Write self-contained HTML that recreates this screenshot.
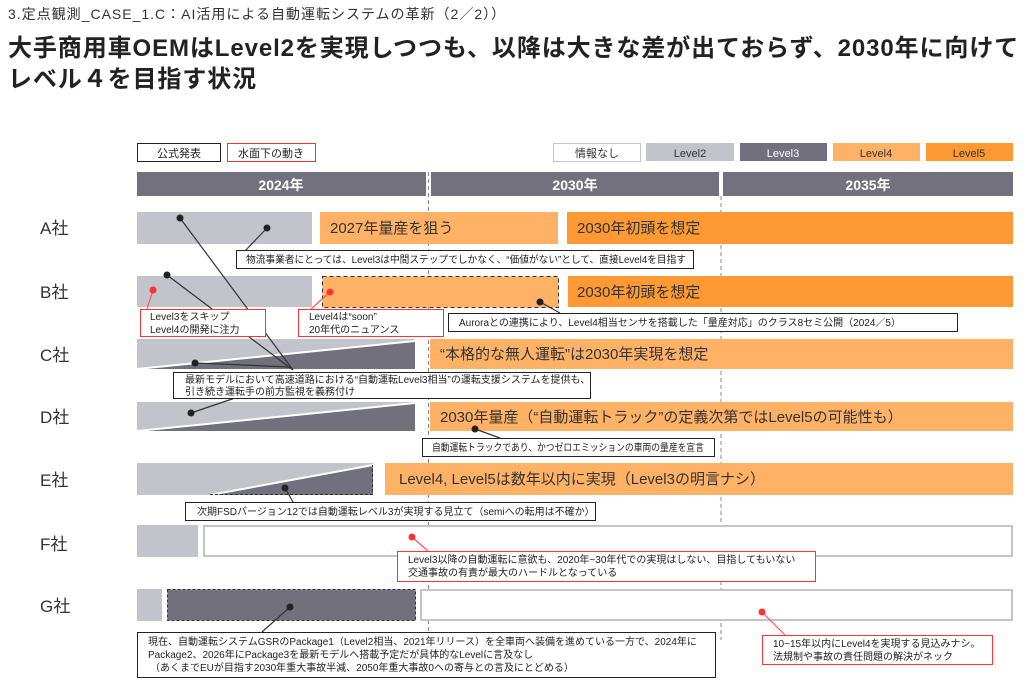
<!DOCTYPE html>
<html><head><meta charset="utf-8"><style>
body{margin:0;background:#fff;}
svg{display:block;font-family:"Liberation Sans","Noto Sans CJK JP",sans-serif;}
.bt{font-size:15px;fill:#333;}
.ct{font-size:10px;fill:#222;}
.rl{font-size:17px;fill:#333;}
</style></head><body>
<svg width="1027" height="692" viewBox="0 0 1027 692" xmlns="http://www.w3.org/2000/svg">
<text x="8" y="19" font-size="14" fill="#333" letter-spacing="1">3.定点観測_CASE_1.C：AI活用による自動運転システムの革新（2／2））</text>
<text x="8" y="56" font-size="24" font-weight="bold" fill="#222" letter-spacing="0.9">大手商用車OEMはLevel2を実現しつつも、以降は大きな差が出ておらず、2030年に向けて</text>
<text x="8" y="87" font-size="24" font-weight="bold" fill="#222" letter-spacing="0.9">レベル４を目指す状況</text>

<!-- legend -->
<rect x="137.5" y="143.5" width="83" height="18" fill="#fff" stroke="#222"/>
<text x="179" y="157" font-size="11" text-anchor="middle" fill="#222">公式発表</text>
<rect x="227.5" y="143.5" width="88" height="18" fill="#fff" stroke="#e33"/>
<text x="271" y="157" font-size="11" text-anchor="middle" fill="#222">水面下の動き</text>
<rect x="553.5" y="143.5" width="87" height="18" fill="#fff" stroke="#c3c3cb"/>
<text x="597" y="157" font-size="11" text-anchor="middle" fill="#333">情報なし</text>
<rect x="646" y="143" width="88" height="18" fill="#c3c3cb"/>
<text x="690" y="157" font-size="11" text-anchor="middle" fill="#333">Level2</text>
<rect x="740" y="143" width="87" height="18" fill="#72707c"/>
<text x="783" y="157" font-size="11" text-anchor="middle" fill="#fff">Level3</text>
<rect x="833" y="143" width="87" height="18" fill="#ffb266"/>
<text x="876" y="157" font-size="11" text-anchor="middle" fill="#333">Level4</text>
<rect x="926" y="143" width="87" height="18" fill="#ff9933"/>
<text x="969" y="157" font-size="11" text-anchor="middle" fill="#333">Level5</text>

<!-- years -->
<rect x="137" y="172" width="289" height="24" fill="#72717d"/>
<rect x="431" y="172" width="288" height="24" fill="#72717d"/>
<rect x="723" y="172" width="290" height="24" fill="#72717d"/>
<text x="281" y="190" font-size="14" font-weight="bold" fill="#fff" text-anchor="middle">2024年</text>
<text x="575" y="190" font-size="14" font-weight="bold" fill="#fff" text-anchor="middle">2030年</text>
<text x="868" y="190" font-size="14" font-weight="bold" fill="#fff" text-anchor="middle">2035年</text>
<line x1="428.5" y1="172" x2="428.5" y2="640" stroke="#888" stroke-dasharray="4,3"/>
<line x1="721" y1="196" x2="721" y2="640" stroke="#888" stroke-dasharray="4,3"/>

<!-- row labels -->
<g class="rl">
<text x="40" y="234">A社</text><text x="40" y="298">B社</text><text x="40" y="361">C社</text>
<text x="40" y="423">D社</text><text x="40" y="486">E社</text><text x="40" y="550">F社</text><text x="40" y="612">G社</text>
</g>

<!-- A -->
<rect x="137" y="212" width="175" height="32" fill="#c3c3cb"/>
<rect x="320" y="212" width="238" height="32" fill="#ffb266"/>
<text x="330" y="233" class="bt">2027年量産を狙う</text>
<rect x="567" y="212" width="446" height="32" fill="#ff9933"/>
<text x="577" y="233" class="bt">2030年初頭を想定</text>

<!-- B -->
<rect x="137" y="276" width="175" height="31" fill="#c3c3cb"/>
<rect x="322.5" y="276.5" width="236" height="31" fill="#ffb266" stroke="#333" stroke-dasharray="4,3"/>
<rect x="568" y="276" width="445" height="31" fill="#ff9933"/>
<text x="577" y="297" class="bt">2030年初頭を想定</text>

<!-- C -->
<rect x="137" y="339" width="278" height="30" fill="#c3c3cb"/>
<polygon points="137,369 415,341 415,369" fill="#72707c"/>
<line x1="137" y1="369" x2="415" y2="341" stroke="#fff" stroke-width="2"/>
<rect x="430" y="339" width="583" height="30" fill="#ffb266"/>
<text x="440" y="359" class="bt">“本格的な無人運転”は2030年実現を想定</text>

<!-- D -->
<rect x="137" y="402" width="278" height="29" fill="#c3c3cb"/>
<polygon points="137,431 415,403 415,431" fill="#72707c"/>
<line x1="137" y1="431" x2="415" y2="403" stroke="#fff" stroke-width="2"/>
<rect x="430" y="402" width="583" height="29" fill="#ffb266"/>
<text x="440" y="422" class="bt">2030年量産（“自動運転トラック”の定義次第ではLevel5の可能性も）</text>

<!-- E -->
<rect x="137" y="463" width="236" height="32" fill="#c3c3cb"/>
<polygon points="210,495 373,465 373,495" fill="#72707c"/>
<line x1="210" y1="495" x2="373" y2="465" stroke="#fff" stroke-width="2"/>
<polyline points="210,494.5 372.5,494.5 372.5,465" fill="none" stroke="#333" stroke-dasharray="3,2"/>
<rect x="385" y="463" width="628" height="32" fill="#ffb266"/>
<text x="399" y="484" class="bt">Level4, Level5は数年以内に実現（Level3の明言ナシ）</text>

<!-- F -->
<rect x="137" y="525" width="61" height="32" fill="#c3c3cb"/>
<rect x="204" y="526" width="808" height="30" fill="#fff" stroke="#c3c3cb" stroke-width="2"/>

<!-- G -->
<rect x="137" y="589" width="25" height="32" fill="#c3c3cb"/>
<rect x="167.5" y="589.5" width="248" height="31" fill="#72707c" stroke="#333" stroke-dasharray="3,2"/>
<rect x="421" y="590" width="591" height="30" fill="#fff" stroke="#c3c3cb" stroke-width="2"/>

<!-- connector lines -->
<g stroke="#333" stroke-width="1.2">
<line x1="180" y1="218" x2="293" y2="370"/>
<line x1="167" y1="275" x2="293" y2="370"/>
<line x1="267" y1="228" x2="244" y2="252"/>
<line x1="540" y1="302" x2="560" y2="313"/>
<line x1="195" y1="363" x2="290" y2="367"/>
<line x1="191" y1="413" x2="235" y2="398"/>
<line x1="475" y1="429" x2="500" y2="438"/>
<line x1="285" y1="488" x2="293" y2="502"/>
<line x1="290" y1="607" x2="262" y2="632"/>
</g>
<g stroke="#f55" stroke-width="1.2">
<line x1="153" y1="290" x2="147" y2="309"/>
<line x1="330" y1="292" x2="311" y2="309"/>
<line x1="412" y1="537" x2="428" y2="551"/>
<line x1="762" y1="612" x2="785" y2="635"/>
</g>
<g fill="#222">
<circle cx="180" cy="218" r="3.5"/><circle cx="267" cy="228" r="3.5"/><circle cx="167" cy="275" r="3.5"/>
<circle cx="540" cy="302" r="3.5"/><circle cx="195" cy="363" r="3.5"/><circle cx="191" cy="413" r="3.5"/>
<circle cx="475" cy="429" r="3.5"/><circle cx="285" cy="488" r="3.5"/><circle cx="290" cy="607" r="3.5"/>
</g>
<g fill="#f33">
<circle cx="153" cy="290" r="3.5"/><circle cx="330" cy="292" r="3.5"/><circle cx="412" cy="537" r="3.5"/><circle cx="762" cy="612" r="3.5"/>
</g>

<!-- callouts -->
<g fill="#fff" stroke="#222">
<rect x="236.5" y="250.5" width="457" height="18"/>
<rect x="448.5" y="313.5" width="509" height="18"/>
<rect x="173.5" y="372.5" width="417" height="26"/>
<rect x="422.5" y="438.5" width="292" height="18"/>
<rect x="185.5" y="502.5" width="410" height="18"/>
<rect x="137.5" y="632.5" width="578" height="45"/>
</g>
<g fill="#fff" stroke="#f33">
<rect x="140.5" y="309.5" width="125" height="27"/>
<rect x="298.5" y="309.5" width="145" height="27"/>
<rect x="397.5" y="551.5" width="418" height="30"/>
<rect x="762.5" y="635.5" width="230" height="29"/>
</g>
<g class="ct">
<text x="246" y="263" textLength="440" lengthAdjust="spacingAndGlyphs">物流事業者にとっては、Level3は中間ステップでしかなく、“価値がない”として、直接Level4を目指す</text>
<text x="459" y="326">Auroraとの連携により、Level4相当センサを搭載した「量産対応」のクラス8セミ公開（2024／5）</text>
<text x="185" y="383">最新モデルにおいて高速道路における“自動運転Level3相当”の運転支援システムを提供も、</text>
<text x="185" y="395">引き続き運転手の前方監視を義務付け</text>
<text x="432" y="451" textLength="272" lengthAdjust="spacingAndGlyphs">自動運転トラックであり、かつゼロエミッションの車両の量産を宣言</text>
<text x="197" y="515">次期FSDバージョン12では自動運転レベル3が実現する見立て（semiへの転用は不確か）</text>
<text x="150" y="320">Level3をスキップ</text>
<text x="150" y="333">Level4の開発に注力</text>
<text x="309" y="320">Level4は“soon”</text>
<text x="309" y="333">20年代のニュアンス</text>
<text x="408" y="563">Level3以降の自動運転に意欲も、2020年~30年代での実現はしない、目指してもいない</text>
<text x="408" y="576">交通事故の有責が最大のハードルとなっている</text>
<text x="148" y="645">現在、自動運転システムGSRのPackage1（Level2相当、2021年リリース）を全車両へ装備を進めている一方で、2024年に</text>
<text x="148" y="658">Package2、2026年にPackage3を最新モデルへ搭載予定だが具体的なLevelに言及なし</text>
<text x="150" y="671">（あくまでEUが目指す2030年重大事故半減、2050年重大事故0への寄与との言及にとどめる）</text>
<text x="773" y="647">10~15年以内にLevel4を実現する見込みナシ。</text>
<text x="773" y="660">法規制や事故の責任問題の解決がネック</text>
</g>
</svg>
</body></html>
